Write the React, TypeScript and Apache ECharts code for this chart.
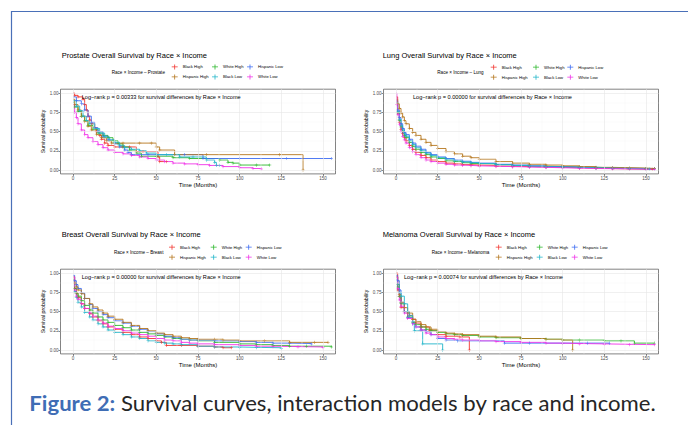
import React, { useEffect, useRef } from 'react';
import * as echarts from 'echarts';

// ---------- data ----------
const groups = ['Black High', 'White High', 'Hispanic Low', 'Hispanic High', 'Black Low', 'White Low'];
const groupColors = ['#F2352F', '#2DB82D', '#3D6CF2', '#B5771E', '#21B6C9', '#F032E8'];
const cancers = ['Prostate', 'Lung', 'Breast', 'Melanoma'];
const pValues = ['0.00333', '0.00000', '0.00000', '0.00074'];
const xTicks = [0, 25, 50, 75, 100, 125, 150];
const xMinor = [12.5, 37.5, 62.5, 87.5, 112.5, 137.5];
const yTicks = [0, 0.25, 0.5, 0.75, 1];
const yMinor = [0.125, 0.375, 0.625, 0.875];

// Prostate  [months, survival]
const prostateBlackHigh = [[0,1.0],[1,0.97],[3,0.95],[6,0.92],[7,0.85],[8,0.78],[9,0.7],[10,0.65],[11,0.6],[13,0.55],[14,0.5],[16,0.45],[17,0.4],[19,0.35],[21,0.32],[25,0.3],[30,0.3],[34,0.3],[38,0.24],[42,0.24],[51,0.17],[52,0.11],[56,0.11]];
const prostateWhiteHigh = [[0,0.88],[1,0.82],[3,0.76],[5,0.7],[7,0.64],[9,0.58],[12,0.53],[15,0.48],[18,0.45],[21,0.42],[24,0.38],[27,0.34],[30,0.3],[34,0.26],[38,0.22],[41,0.18],[50,0.18],[60,0.16],[70,0.15],[88,0.13],[93,0.1],[96,0.09],[100,0.065],[110,0.065],[118,0.065]];
const prostateHispanicLow = [[0,0.95],[2,0.9],[5,0.86],[7,0.78],[9,0.7],[11,0.62],[13,0.55],[15,0.5],[18,0.44],[21,0.39],[25,0.34],[28,0.3],[31,0.26],[33,0.23],[35,0.2],[45,0.2],[67,0.2],[78,0.15],[100,0.15],[128,0.15],[155,0.15]];
const prostateHispanicHigh = [[0,0.92],[1,0.85],[3,0.78],[5,0.7],[7,0.63],[9,0.57],[11,0.52],[14,0.46],[17,0.42],[20,0.38],[23,0.35],[30,0.35],[40,0.35],[47,0.35],[50,0.3],[52,0.26],[61,0.2],[80,0.2],[124,0.2],[138,0]];
const prostateBlackLow = [[0,0.9],[2,0.83],[4,0.77],[6,0.7],[8,0.64],[10,0.6],[13,0.54],[16,0.48],[19,0.43],[22,0.39],[25,0.36],[28,0.32],[31,0.29],[35,0.27],[40,0.25],[44,0.22],[50,0.2],[56,0.2],[64,0.17],[72,0.17],[80,0.13],[85,0.1],[86,0.06],[88,0.06]];
const prostateWhiteLow = [[0,0.85],[1,0.75],[2,0.68],[3,0.6],[5,0.52],[7,0.46],[9,0.42],[12,0.37],[15,0.33],[18,0.29],[21,0.26],[25,0.23],[30,0.21],[35,0.19],[40,0.17],[45,0.15],[50,0.13],[55,0.11],[60,0.09],[67,0.08],[75,0.07],[82,0.06],[90,0.045],[100,0.03],[108,0.02],[113,0.015]];

// Lung
const lungBlackHigh = [[0,0.95],[1,0.74],[2,0.62],[3,0.53],[4,0.47],[5,0.42],[6,0.38],[8,0.32],[10,0.27],[12,0.23],[15,0.19],[18,0.16],[21,0.13],[25,0.11],[30,0.09],[35,0.08],[40,0.07],[45,0.065],[50,0.06],[60,0.05],[70,0.045],[80,0.04],[90,0.035],[100,0.03],[110,0.025],[120,0.02],[130,0.015],[140,0.012],[150,0.01],[154,0.01]];
const lungWhiteHigh = [[0,0.88],[1,0.75],[2,0.64],[3,0.56],[4,0.5],[5,0.45],[6,0.42],[8,0.36],[10,0.31],[12,0.27],[15,0.23],[18,0.2],[21,0.17],[25,0.15],[30,0.12],[35,0.11],[40,0.095],[45,0.085],[50,0.08],[60,0.07],[70,0.06],[80,0.05],[90,0.045],[100,0.04],[110,0.035],[120,0.03],[130,0.025],[140,0.022],[150,0.02],[155,0.02]];
const lungHispanicLow = [[0,0.9],[1,0.78],[2,0.68],[3,0.6],[4,0.54],[5,0.49],[6,0.46],[8,0.4],[10,0.35],[12,0.31],[15,0.27],[18,0.23],[21,0.2],[25,0.17],[30,0.15],[35,0.13],[40,0.115],[45,0.1],[50,0.09],[60,0.075],[70,0.065],[80,0.055],[90,0.045],[100,0.04],[110,0.035],[120,0.03],[130,0.025],[140,0.02],[150,0.015],[155,0.015]];
const lungHispanicHigh = [[0,0.92],[1,0.86],[2,0.8],[3,0.74],[4,0.69],[5,0.64],[6,0.6],[8,0.54],[10,0.49],[12,0.45],[15,0.4],[18,0.36],[21,0.32],[25,0.28],[30,0.24],[35,0.21],[40,0.18],[45,0.16],[50,0.14],[60,0.11],[70,0.09],[80,0.075],[90,0.065],[100,0.055],[110,0.045],[120,0.035],[130,0.03],[140,0.025],[150,0.02],[155,0.02]];
const lungBlackLow = [[0,0.88],[1,0.76],[2,0.66],[3,0.58],[4,0.52],[5,0.47],[6,0.44],[8,0.38],[10,0.33],[12,0.29],[15,0.25],[18,0.22],[21,0.19],[25,0.16],[30,0.14],[35,0.12],[40,0.105],[45,0.095],[50,0.085],[60,0.07],[70,0.06],[80,0.05],[90,0.04],[100,0.035],[110,0.03],[120,0.025],[130,0.02],[140,0.015],[150,0.012],[152,0.012]];
const lungWhiteLow = [[0,1.0],[0.5,0.85],[1,0.72],[2,0.59],[3,0.5],[4,0.44],[5,0.39],[6,0.35],[8,0.29],[10,0.24],[12,0.2],[15,0.16],[18,0.13],[21,0.11],[25,0.09],[30,0.075],[35,0.065],[40,0.06],[45,0.055],[50,0.05],[60,0.045],[70,0.04],[80,0.035],[90,0.03],[100,0.025],[110,0.02],[120,0.018],[130,0.015],[140,0.012],[150,0.01],[155,0.01]];

// Breast
const breastBlackHigh = [[0,0.9],[1,0.8],[2,0.74],[3,0.68],[5,0.6],[7,0.54],[10,0.47],[12,0.43],[15,0.38],[18,0.34],[21,0.3],[25,0.27],[30,0.23],[35,0.2],[40,0.17],[45,0.15],[50,0.12],[53,0.1],[56,0.06],[65,0.06],[75,0.05],[85,0.04],[90,0.03],[95,0.03]];
const breastWhiteHigh = [[0,0.92],[1,0.8],[2,0.74],[3,0.7],[5,0.64],[7,0.58],[10,0.52],[12,0.48],[15,0.43],[18,0.39],[21,0.36],[25,0.32],[30,0.29],[35,0.26],[40,0.23],[45,0.21],[50,0.19],[55,0.17],[60,0.15],[65,0.14],[70,0.13],[75,0.12],[85,0.1],[100,0.08],[110,0.07],[120,0.06],[130,0.05],[140,0.05],[155,0.04]];
const breastHispanicLow = [[0,0.97],[1,0.9],[2,0.85],[3,0.8],[5,0.74],[7,0.67],[10,0.59],[12,0.54],[15,0.5],[18,0.46],[21,0.42],[25,0.38],[30,0.35],[35,0.31],[40,0.27],[45,0.24],[50,0.21],[55,0.18],[60,0.16],[65,0.14],[70,0.13],[75,0.13],[85,0.12],[100,0.11],[110,0.1],[120,0.09],[130,0.085],[143,0.08]];
const breastHispanicHigh = [[0,0.95],[1,0.87],[2,0.82],[3,0.78],[5,0.73],[7,0.67],[10,0.6],[12,0.56],[15,0.52],[18,0.48],[21,0.44],[25,0.4],[30,0.36],[35,0.32],[40,0.28],[45,0.25],[50,0.22],[55,0.2],[60,0.18],[65,0.16],[70,0.15],[75,0.14],[85,0.14],[90,0.13],[100,0.12],[115,0.12],[130,0.1],[145,0.1],[153,0.1]];
const breastBlackLow = [[0,0.9],[1,0.76],[2,0.68],[3,0.62],[5,0.56],[7,0.49],[10,0.43],[12,0.39],[15,0.34],[18,0.3],[21,0.26],[25,0.23],[30,0.2],[35,0.17],[40,0.15],[45,0.12],[50,0.1],[55,0.09],[60,0.08],[65,0.07],[75,0.05],[85,0.04],[100,0.035],[110,0.03],[125,0.02]];
const breastWhiteLow = [[0,0.95],[1,0.78],[2,0.7],[3,0.66],[5,0.6],[7,0.54],[10,0.48],[12,0.44],[15,0.39],[18,0.35],[21,0.31],[25,0.28],[30,0.25],[35,0.22],[40,0.2],[45,0.18],[50,0.15],[55,0.13],[60,0.12],[65,0.1],[70,0.09],[75,0.08],[85,0.07],[100,0.06],[110,0.05],[120,0.045],[135,0.04],[150,0.03]];

// Melanoma
const melanomaBlackHigh = [[0,1.0],[1,0.78],[2,0.7],[3,0.55],[5,0.5],[8,0.45],[10,0.4],[12,0.35],[15,0.3],[20,0.25],[25,0.2],[30,0.18],[38,0.17],[44,0]];
const melanomaWhiteHigh = [[0,0.95],[1,0.82],[2,0.7],[3,0.6],[5,0.5],[7,0.43],[10,0.36],[12,0.33],[15,0.3],[18,0.27],[21,0.25],[25,0.23],[30,0.21],[35,0.2],[40,0.19],[50,0.17],[60,0.16],[75,0.15],[90,0.14],[100,0.13],[110,0.13],[125,0.12],[135,0.12],[143,0.09],[155,0.09]];
const melanomaHispanicLow = [[0,0.97],[1,0.9],[2,0.78],[3,0.62],[5,0.5],[7,0.42],[10,0.34],[12,0.3],[15,0.26],[18,0.24],[21,0.2],[25,0.15],[30,0.13],[37,0.12],[50,0.12],[65,0.09],[80,0.09],[100,0.09],[115,0.09],[128,0.09]];
const melanomaHispanicHigh = [[0,0.95],[1,0.85],[2,0.72],[3,0.62],[5,0.55],[7,0.48],[10,0.4],[12,0.37],[15,0.33],[18,0.3],[21,0.27],[25,0.24],[30,0.22],[35,0.21],[40,0.2],[50,0.18],[60,0.17],[75,0.15],[90,0.14],[100,0.13],[106,0]];
const melanomaBlackLow = [[0,0.92],[1,0.85],[2,0.75],[3,0.7],[5,0.6],[7,0.5],[8,0.45],[10,0.37],[11,0.25],[16,0.08],[28,0]];
const melanomaWhiteLow = [[0,0.95],[1,0.8],[2,0.65],[3,0.57],[5,0.48],[7,0.41],[10,0.34],[12,0.3],[15,0.26],[18,0.22],[21,0.2],[25,0.17],[30,0.15],[35,0.14],[40,0.13],[50,0.12],[60,0.11],[75,0.1],[90,0.09],[100,0.085],[110,0.08],[125,0.075],[140,0.07],[155,0.07]];

const panelCurves = [
  [prostateBlackHigh, prostateWhiteHigh, prostateHispanicLow, prostateHispanicHigh, prostateBlackLow, prostateWhiteLow],
  [lungBlackHigh, lungWhiteHigh, lungHispanicLow, lungHispanicHigh, lungBlackLow, lungWhiteLow],
  [breastBlackHigh, breastWhiteHigh, breastHispanicLow, breastHispanicHigh, breastBlackLow, breastWhiteLow],
  [melanomaBlackHigh, melanomaWhiteHigh, melanomaHispanicLow, melanomaHispanicHigh, melanomaBlackLow, melanomaWhiteLow],
];

// ---------- layout ----------
const gridLeft = [60.5, 383.5, 60.5, 383.5];
const gridTop = [89.2, 89.2, 269.2, 269.2];
const GRID_W = 275;
const GRID_H = 84.7;
const titlePos = [[61.7, 51], [382.7, 51], [61.7, 230.3], [382.7, 230.3]];
const legendTitlePos = [[111.7, 72], [437.3, 72.3], [114, 252.3], [431.7, 252.3]];
const legendColX = [[171.7, 212, 247], [490.7, 533, 567.3], [169, 210.7, 245.7], [495.7, 536.7, 571.7]];
const legendTop = [64.4, 64.7, 244.7, 244.7];
const logRankPos = [[81.7, 97], [413, 97], [81.7, 277], [404, 277]];

const PLUS = 'path://M0,4.25H10V5.75H0Z M4.25,0H5.75V10H4.25Z';
const KEY = 'path://M0,4.2H12V5.8H0Z M5.2,0H6.8V10H5.2Z';
const FONT = 'Liberation Sans, Arial, sans-serif';

function measureCaption(): number {
  try {
    const c = document.createElement('canvas').getContext('2d');
    if (!c) return 1;
    c.font = 'bold 21px Lato';
    const w1 = c.measureText('Figure 2:').width;
    c.font = '21px Lato';
    const w2 = c.measureText(' Survival curves, interaction models by race and income.').width;
    return 627.4 / (w1 + w2);
  } catch (e) {
    return 1;
  }
}

export default function App() {
  const ref = useRef<HTMLDivElement>(null);
  useEffect(() => {
    if (!ref.current) return;
    const chart = echarts.init(ref.current, null, { renderer: 'svg' });
    const capScale = measureCaption();

    const grid: any[] = [];
    const xAxis: any[] = [];
    const yAxis: any[] = [];
    const series: any[] = [];
    const legend: any[] = [];
    const title: any[] = [];
    const graphic: any[] = [];

    cancers.forEach((cancer, i) => {
      grid.push({
        left: gridLeft[i], top: gridTop[i], width: GRID_W, height: GRID_H,
        show: true, borderColor: '#4d4d4d', borderWidth: 0.7, backgroundColor: '#fff',
      });
      xAxis.push({
        type: 'value', gridIndex: i, min: -7.5, max: 157.5,
        axisLine: { show: false, onZero: false },
        splitLine: { show: false },
        axisTick: { show: true, length: 2, customValues: xTicks, lineStyle: { color: '#333', width: 0.6 } },
        axisLabel: { customValues: xTicks, fontSize: 4.5, color: '#4d4d4d', margin: 2.5, fontFamily: FONT },
        name: 'Time (Months)', nameLocation: 'middle', nameGap: 8,
        nameTextStyle: { fontSize: 6, color: '#000', fontFamily: FONT },
      });
      yAxis.push({
        type: 'value', gridIndex: i, min: -0.05, max: 1.05,
        axisLine: { show: false, onZero: false },
        splitLine: { show: false },
        axisTick: { show: true, length: 2, customValues: yTicks, lineStyle: { color: '#333', width: 0.6 } },
        axisLabel: { customValues: yTicks, fontSize: 4.5, color: '#4d4d4d', margin: 2, fontFamily: FONT,
          formatter: (v: number) => v.toFixed(2) },
        name: 'Survival probability', nameLocation: 'middle', nameGap: 13,
        nameTextStyle: { fontSize: 5.2, color: '#000', fontFamily: FONT },
      });
      const major = { color: '#e6e6e6', width: 0.6, type: 'solid' };
      const minor = { color: '#f2f2f2', width: 0.4, type: 'solid' };
      series.push({
        type: 'line', xAxisIndex: i, yAxisIndex: i, data: [], silent: true, z: 1,
        markLine: {
          silent: true, symbol: ['none', 'none'], label: { show: false }, animation: false,
          emphasis: { disabled: true },
          data: [
            ...xMinor.map(v => ({ xAxis: v, lineStyle: minor })),
            ...yMinor.map(v => ({ yAxis: v, lineStyle: minor })),
            ...xTicks.map(v => ({ xAxis: v, lineStyle: major })),
            ...yTicks.map(v => ({ yAxis: v, lineStyle: major })),
          ],
        },
      });
      panelCurves[i].forEach((curve, g) => {
        series.push({
          type: 'line', name: groups[g], xAxisIndex: i, yAxisIndex: i,
          data: curve, step: 'end', z: 3,
          showSymbol: true,
          symbol: (val: number[]) => (val[0] > 0 ? PLUS : 'none'),
          symbolSize: 3.2,
          lineStyle: { color: groupColors[g], width: 0.9 },
          itemStyle: { color: groupColors[g] },
          emphasis: { disabled: true },
        });
      });
      title.push({
        text: `${cancer} Overall Survival by Race × Income`,
        left: titlePos[i][0], top: titlePos[i][1], padding: 0,
        textStyle: { fontSize: 7.5, fontWeight: 'normal', color: '#000', fontFamily: FONT },
      });
      for (let c = 0; c < 3; c++) {
        legend.push({
          orient: 'vertical', left: legendColX[i][c], top: legendTop[i], padding: 0,
          itemWidth: 6, itemHeight: 5, itemGap: 5, icon: KEY, selectedMode: false,
          data: [groups[c], groups[c + 3]],
          textStyle: { fontSize: 4.2, color: '#000', fontFamily: FONT },
        });
      }
      graphic.push({
        type: 'text', x: legendTitlePos[i][0], y: legendTitlePos[i][1], silent: true,
        style: { text: `Race × Income – ${cancer}`, fontSize: 4.6, fontFamily: FONT, fill: '#000', verticalAlign: 'middle' },
      });
      graphic.push({
        type: 'text', x: logRankPos[i][0], y: logRankPos[i][1], silent: true, z: 10,
        style: { text: `Log−rank p = ${pValues[i]} for survival differences by Race × Income`, fontSize: 5.6, fontFamily: FONT, fill: '#000', verticalAlign: 'middle' },
      });
    });

    graphic.push({
      type: 'polyline', silent: true,
      shape: { points: [[11.5, 425], [11.5, 11.5], [688, 11.5]] },
      style: { stroke: '#4A70B8', lineWidth: 1.2, fill: 'none' },
    });
    graphic.push({
      type: 'text', x: 29.3, y: 403, scaleX: capScale, silent: true,
      style: {
        text: '{a|Figure 2:}{b| Survival curves, interaction models by race and income.}',
        verticalAlign: 'middle',
        rich: {
          a: { fontSize: 21, fontWeight: 'bold', fontFamily: 'Lato', fill: '#3F6DB5' },
          b: { fontSize: 21, fontFamily: 'Lato', fill: '#262626' },
        },
      },
    });

    chart.setOption({
      animation: false,
      backgroundColor: '#fff',
      textStyle: { fontFamily: FONT },
      title, grid, xAxis, yAxis, series, legend, graphic,
    });
    return () => chart.dispose();
  }, []);
  return <div ref={ref} style={{ position: 'fixed', left: 0, top: 0, width: 688, height: 425 }} />;
}
